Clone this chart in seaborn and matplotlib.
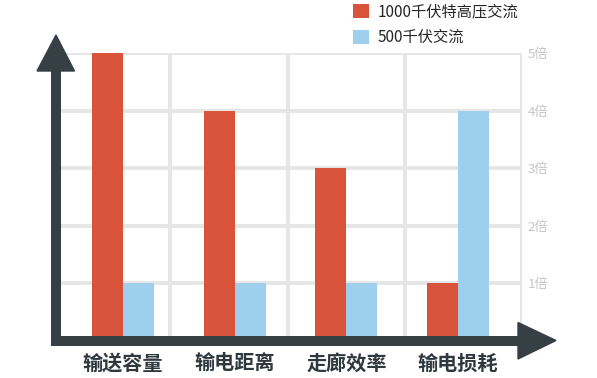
import pandas as pd
import seaborn as sns
import matplotlib.pyplot as plt
from matplotlib.patches import Polygon
from matplotlib.lines import Line2D

# ---- Data ----
categories = ["输送容量", "输电距离", "走廊效率", "输电损耗"]
series_names = ["1000千伏特高压交流", "500千伏交流"]
uhv_values = [5, 4, 3, 1]
ac500_values = [1, 1, 1, 4]
multiple_labels = ["1倍", "2倍", "3倍", "4倍", "5倍"]

RED = "#d9533a"
BLUE = "#9ed0ee"
DARK = "#363f44"
GRID = "#e6e6e6"

df = pd.DataFrame({
    "category": categories * 2,
    "series": [series_names[0]] * 4 + [series_names[1]] * 4,
    "value": uhv_values + ac500_values,
})

# ---- Plot ----
sns.set_theme(style="white")
plt.rcParams["font.family"] = ["Noto Sans CJK SC", "DejaVu Sans"]

W, H = 597, 378
fig = plt.figure(figsize=(W / 100, H / 100), dpi=100)


def fx(px):
    return px / W


def fy(py):
    return 1 - py / H


ax = fig.add_axes([fx(56), fy(340.5), fx(522) - fx(56), fy(53) - fy(340.5)])

# grid (drawn first so bars sit on top)
for y in range(1, 6):
    ax.hlines(y, -0.6, 3.572, color=GRID, lw=2.9, zorder=0)
for x in [0.421, 1.477, 2.525, 3.572]:
    ax.vlines(x, 0, 5, color=GRID, lw=2.9, zorder=0)

sns.barplot(data=df, x="category", y="value", hue="series",
            palette=[RED, BLUE], width=0.555, linewidth=0,
            saturation=1, ax=ax, zorder=2)

ax.set_xlim(-0.6, 3.572)
ax.set_ylim(0, 5)
for s in ax.spines.values():
    s.set_visible(False)

ax.set_xlabel("")
ax.set_ylabel("")
ax.tick_params(axis="x", length=0, pad=8.5, labelsize=14.5, colors="#2e383d")
for lab in ax.get_xticklabels():
    lab.set_fontweight("bold")

ax.yaxis.tick_right()
ax.set_yticks(range(1, 6))
ax.set_yticklabels(multiple_labels)
ax.tick_params(axis="y", length=0, pad=4, labelsize=9.5, colors="#c5c5c5")

# legend
handles, labels = ax.get_legend_handles_labels()
ax.legend(handles, labels, loc="upper left", frameon=False,
          bbox_to_anchor=(fx(353), fy(3)), bbox_transform=fig.transFigure,
          borderaxespad=0, borderpad=0, fontsize=11,
          handlelength=1.05, handleheight=1.05, handletextpad=0.55,
          labelspacing=0.6, labelcolor="#262626")

# axis arrows
fig.add_artist(Line2D([fx(56), fx(56)], [fy(345), fy(70)], lw=7.2,
                      color=DARK, solid_capstyle="butt", zorder=5))
fig.add_artist(Line2D([fx(51), fx(519)], [fy(340.5), fy(340.5)], lw=7.2,
                      color=DARK, solid_capstyle="butt", zorder=5))
fig.add_artist(Polygon([[fx(37), fy(71)], [fx(74.5), fy(71)], [fx(56), fy(35)]],
                       closed=True, color=DARK, transform=fig.transFigure, zorder=5))
fig.add_artist(Polygon([[fx(518), fy(322.5)], [fx(518), fy(359)], [fx(556), fy(340.5)]],
                       closed=True, color=DARK, transform=fig.transFigure, zorder=5))

plt.savefig("out.png", dpi=100)
plt.close()
